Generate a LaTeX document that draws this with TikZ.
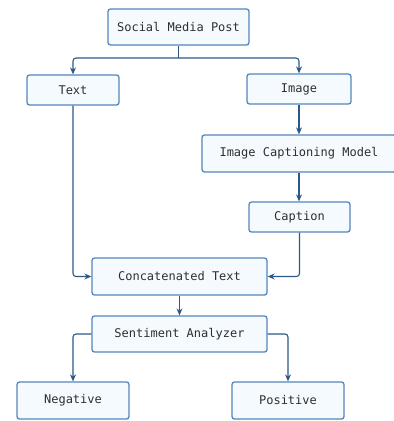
\documentclass[tikz,border=0pt]{standalone}
\usepackage{fontspec}
\setmonofont{DejaVu Sans Mono}
\usetikzlibrary{arrows.meta}
\definecolor{boxfill}{HTML}{F5FAFF}
\definecolor{boxdraw}{HTML}{5586BC}
\definecolor{linecol}{HTML}{2C5886}
\definecolor{txt}{HTML}{2E2E2E}
\tikzset{
  box/.style={draw=boxdraw, fill=boxfill, line width=1.3pt, rounded corners=2.5pt,
    font=\ttfamily\fontsize{12}{14}\selectfont, text=txt, inner sep=0pt, anchor=center},
  conn/.style={draw=linecol, line width=1.1pt, rounded corners=3pt, -{Stealth[length=7pt,width=6pt]}},
  connplain/.style={draw=linecol, line width=1.1pt, rounded corners=3pt}
}
\begin{document}
\begin{tikzpicture}[x=1pt,y=-1pt]
\useasboundingbox (0,0) rectangle (394,421);
\node[box, minimum width=141pt, minimum height=36pt] (smp) at (178.5,27) {Social Media Post};
\node[box, minimum width=92pt, minimum height=30pt] (txt) at (73,90) {Text};
\node[box, minimum width=104pt, minimum height=30pt] (img) at (299,89) {Image};
\node[box, minimum width=194pt, minimum height=37pt] (icm) at (299,153.5) {Image Captioning Model};
\node[box, minimum width=101pt, minimum height=30pt] (cap) at (299.5,217) {Caption};
\node[box, minimum width=175pt, minimum height=37pt] (cat) at (179.5,276.5) {Concatenated Text};
\node[box, minimum width=175pt, minimum height=36pt] (sen) at (179.5,334) {Sentiment Analyzer};
\node[box, minimum width=112pt, minimum height=37pt] (neg) at (73,400.5) {Negative};
\node[box, minimum width=112pt, minimum height=37pt] (pos) at (288,400.5) {Positive};
\coordinate (split) at (178.5,58);
\draw[connplain] (smp.south) -- (split);
\draw[conn] (split) -| (txt.north);
\draw[conn] (split) -| (img.north);
\draw[conn] (img.south) -- (icm.south |- icm.north);
\draw[conn] (img.south |- icm.south) -- (cap.north -| img.south);
\draw[conn] (txt.south) |- (cat.west);
\draw[conn] (cap.south) |- (cat.east);
\draw[conn] (cat.south) -- (sen.north);
\draw[conn] (sen.west) -| (neg.north);
\draw[conn] (sen.east) -| (pos.north);
\end{tikzpicture}
\end{document}
